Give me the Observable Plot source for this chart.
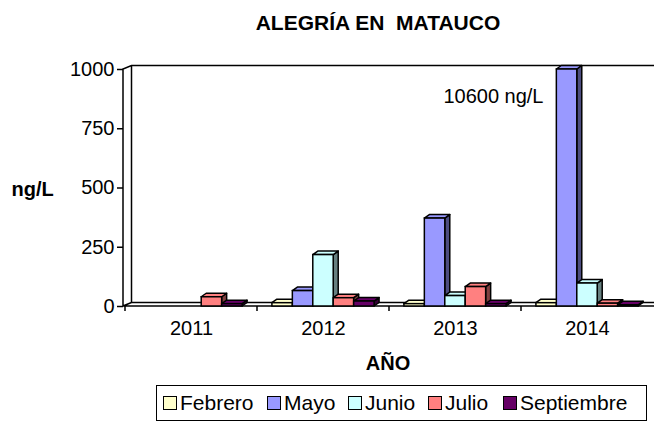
<!DOCTYPE html>
<html>
<head>
<meta charset="utf-8">
<script src="https://cdn.jsdelivr.net/npm/d3@7"></script>
<script src="https://cdn.jsdelivr.net/npm/@observablehq/plot@0.6"></script>
<style>
  body { margin: 0; background: #fff; font-family: "Liberation Sans", Arial, sans-serif; }
  #wrap { position: relative; width: 654px; height: 421px; overflow: hidden; background: #fff; }
  #title { position: absolute; left: 0; width: 756px; top: 10px; text-align: center; font-weight: bold; font-size: 21px; line-height: 26px; color: #000; white-space: pre; }
  #chart { position: absolute; left: 0; top: 40px; }
  #legend { position: absolute; left: 156px; top: 385px; width: 491px; height: 36px; box-sizing: border-box; border: 1.5px solid #000; font-size: 21px; color: #000; }
  .item { position: absolute; top: 0; height: 36px; display: flex; align-items: center; margin-top: -1px; }
  .sw { width: 14px; height: 14px; box-sizing: border-box; border: 1.5px solid #000; margin-right: 3px; }
</style>
</head>
<body>
<div id="wrap">
  <div id="title"></div>
  <div id="chart"></div>
  <div id="legend"></div>
</div>
<script>
// ---- data ----
const titleText = "ALEGRÍA EN  MATAUCO";
const yLabel = "ng/L";
const xLabel = "AÑO";
const note = ["10600 ng/L"];
const years = ["2011", "2012", "2013", "2014"];
const months = ["Febrero", "Mayo", "Junio", "Julio", "Septiembre"];
const febrero    = [null, 14, 10, 14];
const mayo       = [null, 65, 371, 10600];
const junio      = [null, 217, 44, 97];
const julio      = [39, 35, 82, 12];
const septiembre = [10, 21, 10, 5];
const yTicks = [0, 250, 500, 750, 1000];
const colors = ["#ffffcc", "#9999ff", "#ccffff", "#ff8080", "#660066"];

const series = [febrero, mayo, junio, julio, septiembre];
const rows = [];
years.forEach((yr, j) => months.forEach((m, k) => {
  const v = series[k][j];
  if (v != null) rows.push({year: yr, month: m, value: v});
}));

document.getElementById("title").textContent = titleText;

// 3D bars drawn from Plot's scaled channel values
const DX = 5, DY = -3.5;
function bars3d(index, scales, values) {
  const g = d3.create("svg:g");
  const bw = scales.x.bandwidth();
  const inner = d3.scaleBand(months, [0, bw]).paddingOuter(0.73).paddingInner(0);
  const w = inner.bandwidth();
  const colorOf = d3.scaleOrdinal(months, colors);
  const items = Array.from(index, i => {
    const x = values.x[i] + inner(rows[i].month);
    const yA = values.y1[i], yB = values.y2[i];
    const top = Math.min(yA, yB), bot = Math.max(yA, yB);
    const c = values.fill ? values.fill[i] : colorOf(rows[i].month);
    const rgb = d3.rgb(c);
    const dark = d3.rgb(rgb.r * 0.5, rgb.g * 0.5, rgb.b * 0.5).formatHex();
    return {x, top, bot, c, dark};
  });
  const back = g.append("g").attr("stroke", "#000").attr("stroke-width", 1.5).attr("stroke-linejoin", "round");
  for (const b of items) {
    back.append("path")
      .attr("d", `M${b.x + w},${b.bot}L${b.x + w + DX},${b.bot + DY}L${b.x + w + DX},${b.top + DY}L${b.x + w},${b.top}Z`)
      .attr("fill", b.dark);
    back.append("path")
      .attr("d", `M${b.x},${b.top}L${b.x + DX},${b.top + DY}L${b.x + w + DX},${b.top + DY}L${b.x + w},${b.top}Z`)
      .attr("fill", b.c);
  }
  const front = g.append("g").attr("stroke", "#000").attr("stroke-width", 1.5);
  for (const b of items) {
    front.append("rect").attr("x", b.x).attr("y", b.top).attr("width", w).attr("height", b.bot - b.top).attr("fill", b.c);
  }
  return g.node();
}

// 3D walls, floor and axis lines
function walls(index, scales, values, dims) {
  const x0 = dims.marginLeft, x1 = dims.width - dims.marginRight;
  const y0 = scales.y(0), yT = scales.y(yTicks[yTicks.length - 1]);
  const WX = 8.5, WY = -3.5;
  let d = `M${x0},${y0}V${yT}L${x0 + WX},${yT + WY}H${x1 + 10}`;
  d += `M${x0 + WX},${yT + WY}V${y0 + WY}H${x1 + 10}`;
  d += `M${x0},${y0}L${x0 + WX},${y0 + WY}`;
  d += `M${x0},${y0}H${x1 + 10}`;
  for (const yr of years) { const bx = scales.x(yr); d += `M${bx},${y0}V${y0 + 5}`; }
  const g = d3.create("svg:g");
  g.append("path").attr("d", d).attr("fill", "none").attr("stroke", "#000").attr("stroke-width", 1.5);
  return g.node();
}

const chart = Plot.plot({
  width: 654,
  height: 340,
  marginLeft: 123,
  marginRight: 0,
  marginTop: 29,
  marginBottom: 74,
  style: {fontFamily: "Liberation Sans, Arial, sans-serif", fontSize: "20px", color: "#000", background: "#fff"},
  x: {domain: years, padding: 0},
  y: {domain: [0, 1000], clamp: true},
  color: {domain: months, range: colors},
  marks: [
    walls,
    Plot.barY(rows, {x: "year", y1: 0, y2: "value", fill: "month", stroke: "#000", render: bars3d}),
    Plot.axisY({ticks: yTicks, tickFormat: d => String(d), tickSize: 6, tickPadding: 3, fontSize: 20, label: null, stroke: "#000", strokeWidth: 1.5}),
    Plot.axisX({tickSize: 0, tickPadding: 14, fontSize: 20, label: null}),
    Plot.text([yLabel], {frameAnchor: "left", dx: -112, dy: 2, textAnchor: "start", fontSize: 20, fontWeight: "bold"}),
    Plot.text([xLabel], {frameAnchor: "bottom", dy: 63, dx: -1, fontSize: 20, fontWeight: "bold"}),
    Plot.text(note, {x: () => "2014", y: () => 884, dx: -44, textAnchor: "end", fontSize: 20})
  ]
});
document.getElementById("chart").appendChild(chart);

const legend = document.getElementById("legend");
const legendX = [6, 110, 191, 271, 346];
months.forEach((m, k) => {
  const it = document.createElement("div");
  it.className = "item";
  it.style.left = legendX[k] + "px";
  const sw = document.createElement("div");
  sw.className = "sw";
  sw.style.background = colors[k];
  const t = document.createElement("span");
  t.textContent = m;
  it.appendChild(sw); it.appendChild(t);
  legend.appendChild(it);
});
</script>
</body>
</html>
